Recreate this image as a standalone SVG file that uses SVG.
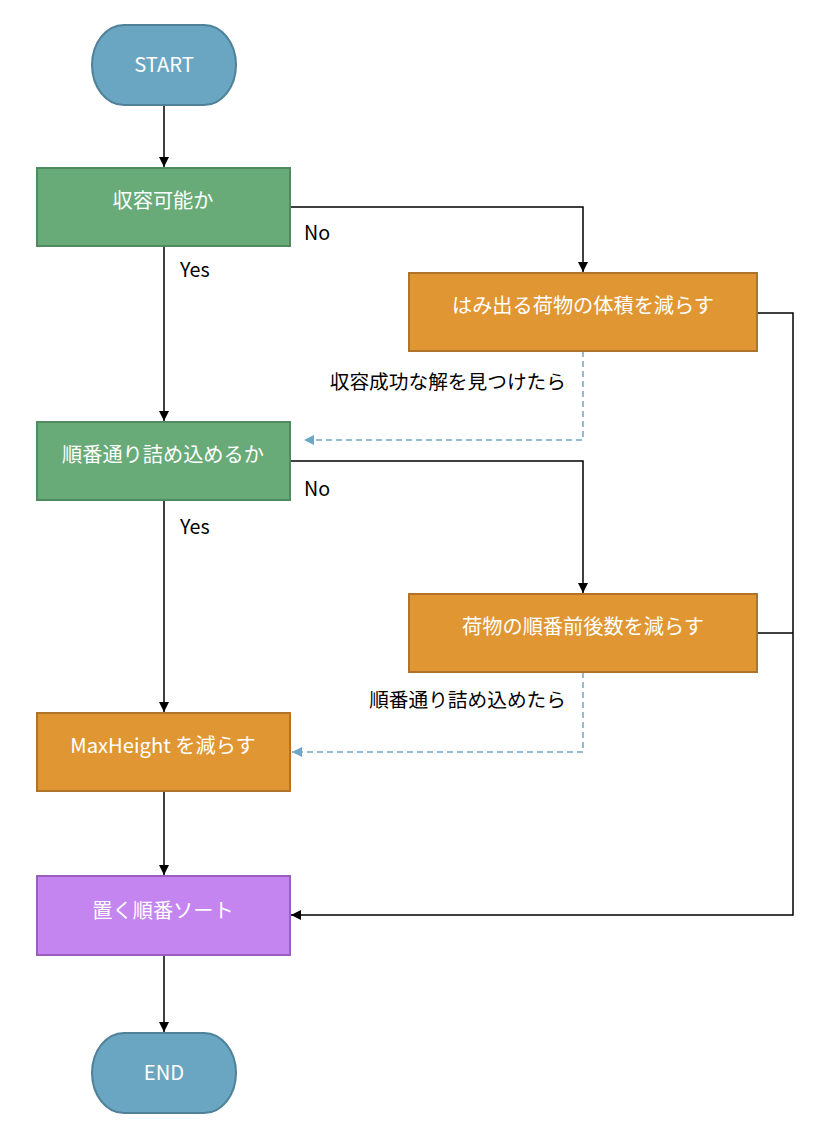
<svg xmlns="http://www.w3.org/2000/svg" width="831" height="1143" viewBox="0 0 831 1143">
<defs>
<style>
.t{font-family:"Noto Sans CJK JP","Noto Sans",sans-serif;font-size:20.2px;fill:#fff;text-anchor:middle}
.l{font-family:"Noto Sans CJK JP","Noto Sans",sans-serif;font-size:19.7px;fill:#000}
.term{fill:#6aa6c1;stroke:#4f8198;stroke-width:2}
.dec{fill:#68ab78;stroke:#528a5f;stroke-width:2}
.proc{fill:#e09733;stroke:#b07428;stroke-width:2}
.sort{fill:#c585f1;stroke:#9a5fbe;stroke-width:2}
.c{fill:none;stroke:#000;stroke-width:1.5}
.d{fill:none;stroke:#6fa7c3;stroke-width:1.5;stroke-dasharray:6 4}
</style>
<marker id="ab" viewBox="0 0 10 10" refX="10" refY="5" markerWidth="10" markerHeight="10" markerUnits="userSpaceOnUse" orient="auto"><path d="M0,0 L10,5 L0,10 z" fill="#000"/></marker>
<marker id="ad" viewBox="0 0 10 10" refX="10" refY="5" markerWidth="10" markerHeight="10" markerUnits="userSpaceOnUse" orient="auto"><path d="M0,0 L10,5 L0,10 z" fill="#6fa7c3"/></marker>
</defs>
<rect width="831" height="1143" fill="#fff"/>
<g id="connectors">
<path class="c" d="M164,105 V167" marker-end="url(#ab)"/>
<path class="c" d="M290,207 H583 V272" marker-end="url(#ab)"/>
<path class="c" d="M164,246 V421" marker-end="url(#ab)"/>
<path class="d" d="M583,351 V440 H304" marker-end="url(#ad)"/>
<path class="c" d="M757,313 H793 V915 H291" marker-end="url(#ab)"/>
<path class="c" d="M290,461 H583 V593" marker-end="url(#ab)"/>
<path class="c" d="M164,500 V712" marker-end="url(#ab)"/>
<path class="c" d="M757,633 H793"/>
<path class="d" d="M583,672 V752 H292" marker-end="url(#ad)"/>
<path class="c" d="M164,791 V875" marker-end="url(#ab)"/>
<path class="c" d="M164,955 V1032" marker-end="url(#ab)"/>
<text class="l" x="304" y="240">No</text>
<text class="l" x="180" y="277">Yes</text>
<text class="l" x="304" y="496">No</text>
<text class="l" x="180" y="534">Yes</text>
<text class="l" x="566" y="389" text-anchor="end">収容成功な解を見つけたら</text>
<text class="l" x="566" y="707" text-anchor="end">順番通り詰め込めたら</text>
</g>
<g id="start"><rect class="term" x="92" y="25" width="144" height="80" rx="32" ry="40"/><text class="t" x="164" y="72">START</text></g>
<g id="check1"><rect class="dec" x="37" y="168" width="253" height="78"/><text class="t" x="163" y="208">収容可能か</text></g>
<g id="reduce1"><rect class="proc" x="409" y="273" width="348" height="78"/><text class="t" x="583" y="313">はみ出る荷物の体積を減らす</text></g>
<g id="check2"><rect class="dec" x="37" y="422" width="253" height="78"/><text class="t" x="163" y="462">順番通り詰め込めるか</text></g>
<g id="reduce2"><rect class="proc" x="409" y="594" width="348" height="78"/><text class="t" x="583" y="634">荷物の順番前後数を減らす</text></g>
<g id="maxh"><rect class="proc" x="37" y="713" width="253" height="78"/><text class="t" x="163" y="753">MaxHeight を減らす</text></g>
<g id="sort"><rect class="sort" x="37" y="876" width="253" height="79"/><text class="t" x="163" y="918">置く順番ソート</text></g>
<g id="end"><rect class="term" x="92" y="1033" width="144" height="80" rx="32" ry="40"/><text class="t" x="164" y="1080">END</text></g>
</svg>
